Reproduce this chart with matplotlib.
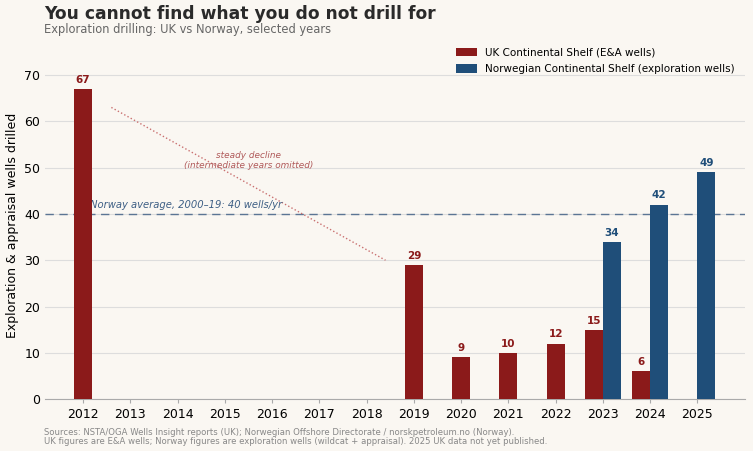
import numpy as np
import matplotlib.pyplot as plt

# data
uk_years = [2012, 2019, 2020, 2021, 2022, 2023, 2024]
uk_wells = [67, 29, 9, 10, 12, 15, 6]
no_years = [2023, 2024, 2025]
no_wells = [34, 42, 49]
all_years = list(range(2012, 2026))
norway_avg = 40

UK_COL = '#8b1a1a'
NO_COL = '#1f4e79'
BG = '#faf7f2'

fig = plt.figure(figsize=(7.53, 4.51), dpi=100, facecolor=BG)
ax = fig.add_axes([0.06, 0.115, 0.929, 0.77], facecolor=BG)

w = 0.38
uk_x = [y - w / 2 if y in no_years else y for y in uk_years]
no_x = [y + w / 2 for y in no_years]

ax.bar(uk_x, uk_wells, width=w, color=UK_COL, label='UK Continental Shelf (E&A wells)', zorder=3)
ax.bar(no_x, no_wells, width=w, color=NO_COL, label='Norwegian Continental Shelf (exploration wells)', zorder=3)

for x, v in zip(uk_x, uk_wells):
    ax.text(x, v + 0.9, str(v), ha='center', va='bottom', fontsize=7.5, fontweight='bold', color=UK_COL)
for x, v in zip(no_x, no_wells):
    ax.text(x, v + 0.9, str(v), ha='center', va='bottom', fontsize=7.5, fontweight='bold', color=NO_COL)

# Norway average line (sits behind the bars, as does its label)
ax.axhline(norway_avg, color='#5b7594', linestyle=(0, (6, 4)), linewidth=1, zorder=2)
ax.text(2012.15, norway_avg + 0.9, 'Norway average, 2000–19: 40 wells/yr', fontsize=7.2, style='italic',
        color='#3e5f85', ha='left', va='bottom', zorder=2.5)

# decline guide
ax.plot([2012.6, 2018.4], [63, 30], linestyle=':', color='#c97070', linewidth=1, zorder=2)
ax.text(2015.5, 51.6, 'steady decline\n(intermediate years omitted)', fontsize=6.4, style='italic',
        color='#b05a5a', ha='center', va='center', linespacing=1.1)

ax.set_xlim(2011.2, 2026)
ax.set_ylim(0, 75)
ax.set_xticks(all_years)
ax.set_yticks(range(0, 71, 10))
ax.tick_params(axis='x', labelsize=9, length=3, color='#aaaaaa')
ax.tick_params(axis='y', labelsize=9, length=0)
ax.grid(axis='y', color='#dddddd', linewidth=0.8, zorder=0)
for s in ['top', 'right', 'left']:
    ax.spines[s].set_visible(False)
ax.spines['bottom'].set_color('#aaaaaa')
ax.set_ylabel('Exploration & appraisal wells drilled', fontsize=9)

ax.legend(loc='upper right', bbox_to_anchor=(0.995, 1.03), frameon=False, fontsize=7.5,
          handlelength=2, handleheight=0.9, labelspacing=0.6, borderaxespad=0.2)

fig.text(0.058, 0.969, 'You cannot find what you do not drill for', fontsize=12.3, fontweight='bold',
         color='#2a2a2a', va='center')
fig.text(0.058, 0.935, 'Exploration drilling: UK vs Norway, selected years', fontsize=8.3,
         color='#666666', va='center')
fig.text(0.058, 0.031, 'Sources: NSTA/OGA Wells Insight reports (UK); Norwegian Offshore Directorate / norskpetroleum.no (Norway).\n'
         'UK figures are E&A wells; Norway figures are exploration wells (wildcat + appraisal). 2025 UK data not yet published.',
         fontsize=6.1, color='#888888', va='center', linespacing=1.1)

fig.savefig('out.png', dpi=100, facecolor=BG)
